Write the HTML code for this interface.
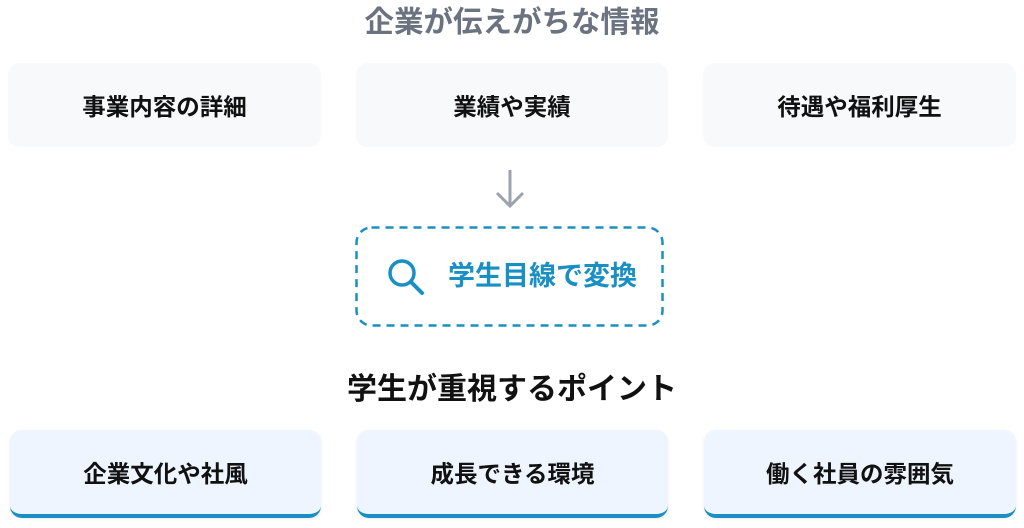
<!DOCTYPE html>
<html><head><meta charset="utf-8"><style>
body{margin:0;width:1024px;height:528px;background:#fff;font-family:"Liberation Sans","Noto Sans CJK JP",sans-serif;position:relative;overflow:hidden}
.t{position:absolute;left:0;width:1024px;text-align:center;font-weight:bold}
.b{position:absolute;display:flex;align-items:center;justify-content:center;font-weight:bold;font-size:23.5px;color:#111;border-radius:12px}
.top{top:63px;height:84px;background:#f8f9fb}
.bot{top:430px;height:84px;background:#eef5ff;border-bottom:4px solid #1a8fc4;box-shadow:0 1px 3px rgba(0,0,0,.08)}
</style></head><body>
<div class="t" style="top:5px;font-size:29.5px;color:#6b7280;line-height:36px">企業が伝えがちな情報</div>
<div class="b top" style="left:8px;width:313px">事業内容の詳細</div>
<div class="b top" style="left:356px;width:312px">業績や実績</div>
<div class="b top" style="left:703px;width:313px">待遇や福利厚生</div>
<svg style="position:absolute;left:490px;top:166px" width="40" height="46"><path d="M20 4V40M7 27L20 40L33 27" stroke="#9ca3af" stroke-width="3" fill="none"/></svg>
<svg style="position:absolute;left:354px;top:225px" width="312" height="104"><rect x="2.5" y="2.5" width="306" height="98" rx="15" fill="none" stroke="#1a8fc4" stroke-width="2.5" stroke-dasharray="8 6"/><circle cx="48" cy="48" r="12" fill="none" stroke="#1a8fc4" stroke-width="3.5"/><path d="M57 57L68 68" stroke="#1a8fc4" stroke-width="4" stroke-linecap="round"/></svg>
<div style="position:absolute;left:448px;top:259px;font-size:27px;font-weight:bold;color:#1a8fc4;line-height:34px">学生目線で変換</div>
<div class="t" style="top:371px;font-size:30px;color:#111;line-height:38px">学生が重視するポイント</div>
<div class="b bot" style="left:10px;width:311px">企業文化や社風</div>
<div class="b bot" style="left:357px;width:311px">成長できる環境</div>
<div class="b bot" style="left:704px;width:312px">働く社員の雰囲気</div>
</body></html>
